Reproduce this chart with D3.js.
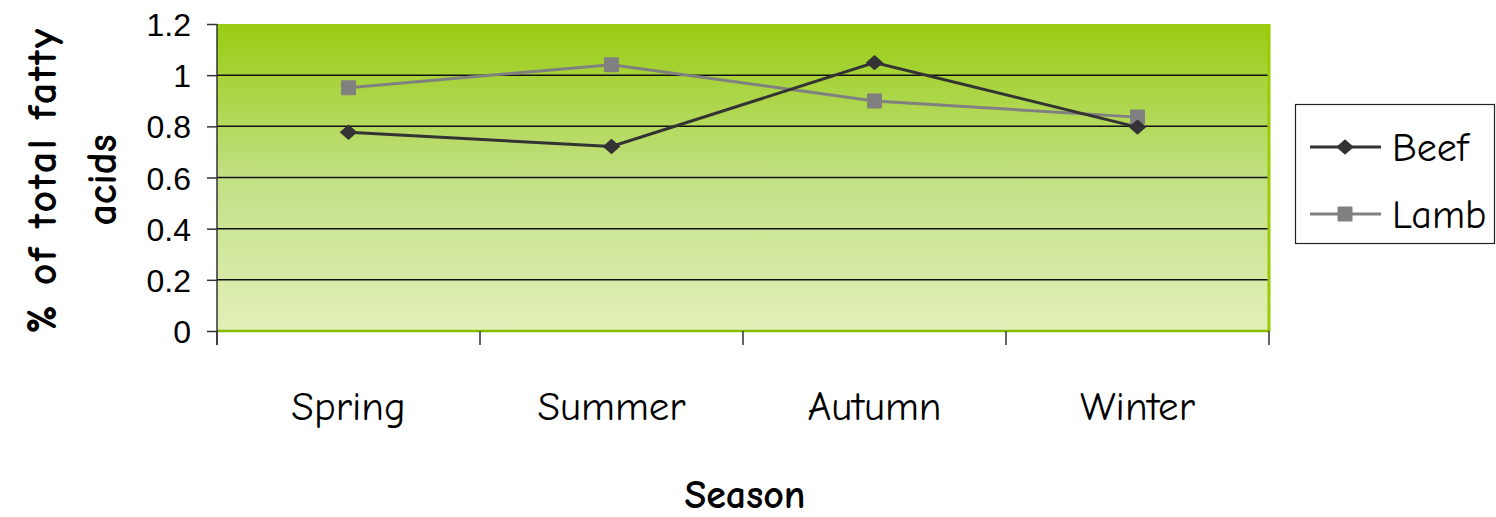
<!DOCTYPE html>
<html><head><meta charset="utf-8">
<script src="https://cdn.jsdelivr.net/npm/d3@7"></script>
<style>
html,body{margin:0;padding:0;background:#fff;}
svg{display:block;}
</style></head>
<body>
<script>
const categories = ["Spring", "Summer", "Autumn", "Winter"];
const beef = [0.777, 0.721, 1.049, 0.797];
const lamb = [0.951, 1.041, 0.899, 0.836];
const yTicks = [0, 0.2, 0.4, 0.6, 0.8, 1, 1.2];
const seriesNames = ["Beef", "Lamb"];

(function () {
const W = 1496, H = 517;
const comic = "'Comic Sans MS','Comic Neue','DejaVu Sans',sans-serif";
const svg = d3.select("body").append("svg").attr("width", W).attr("height", H);

const pL = 217, pR = 1269, pT = 24, pB = 331;
const x = d3.scaleBand().domain(categories).range([pL, pR]).padding(0);
const y = d3.scaleLinear().domain([0, 1.2]).range([pB, pT]);

const defs = svg.append("defs");
const grad = defs.append("linearGradient").attr("id", "bg").attr("x1", 0).attr("y1", 0).attr("x2", 0).attr("y2", 1);
grad.append("stop").attr("offset", "0%").attr("stop-color", "#99cc11");
grad.append("stop").attr("offset", "50%").attr("stop-color", "#c2e084");
grad.append("stop").attr("offset", "100%").attr("stop-color", "#e2f0b9");

svg.append("rect").attr("x", pL).attr("y", pT).attr("width", pR - pL).attr("height", pB - pT)
  .attr("fill", "url(#bg)");

// gridlines
svg.append("g").selectAll("line").data(yTicks.filter(d => d > 0 && d < 1.2)).join("line")
  .attr("x1", pL).attr("x2", pR).attr("y1", d => y(d)).attr("y2", d => y(d))
  .attr("stroke", "#111").attr("stroke-width", 1.5);

// plot border (green)
svg.append("line").attr("x1", pR).attr("x2", pR).attr("y1", pT).attr("y2", pB + 1)
  .attr("stroke", "#99cc00").attr("stroke-width", 3);
svg.append("line").attr("x1", pL).attr("x2", pR).attr("y1", pB).attr("y2", pB)
  .attr("stroke", "#88bb00").attr("stroke-width", 2.5);

// y axis
const yAxis = d3.axisLeft(y).tickValues(yTicks).tickSize(10).tickFormat(d => d3.format("")(d)).tickSizeOuter(0);
const gy = svg.append("g").attr("transform", `translate(${pL},0)`).call(yAxis);
gy.select(".domain").attr("stroke", "#333").attr("stroke-width", 1.5).attr("d", `M0,${pT}V${pB + 14}`);
gy.selectAll(".tick line").attr("stroke", "#333").attr("stroke-width", 1.5);
gy.selectAll(".tick text").attr("font-family", "Arial, 'Liberation Sans', sans-serif").attr("font-size", 32)
  .attr("fill", "#000").attr("x", -26).attr("dy", "0.36em");

// x axis
const gx = svg.append("g").attr("transform", `translate(0,${pB})`);
const bounds = categories.map(c => x(c)).concat([pR]);
gx.selectAll("line.tk").data(bounds).join("line").attr("class", "tk")
  .attr("x1", d => d).attr("x2", d => d).attr("y1", 0).attr("y2", 14)
  .attr("stroke", "#333").attr("stroke-width", 1.5);
gx.selectAll("text").data(categories).join("text")
  .attr("x", d => x(d) + x.bandwidth() / 2).attr("y", 89)
  .attr("text-anchor", "middle").attr("font-family", comic).attr("font-size", 41).attr("fill", "#000")
  .text(d => d);

// lines
const line = d3.line().x((d, i) => x(categories[i]) + x.bandwidth() / 2).y(d => y(d));
const series = [{name: "Lamb", vals: lamb, color: "#808080"}, {name: "Beef", vals: beef, color: "#333333"}];
series.forEach(s => {
  svg.append("path").datum(s.vals).attr("d", line).attr("fill", "none")
    .attr("stroke", s.color).attr("stroke-width", 3);
});
function marker(g, name, cx, cy, color) {
  if (name === "Beef") {
    g.append("path").attr("d", d3.symbol(d3.symbolDiamond2, 150)())
      .attr("transform", `translate(${cx},${cy}) scale(1.15,1)`).attr("fill", color);
  } else {
    g.append("rect").attr("x", cx - 7.5).attr("y", cy - 7.5).attr("width", 15).attr("height", 15)
      .attr("fill", color).attr("rx", 1);
  }
}
series.forEach(s => {
  const g = svg.append("g");
  s.vals.forEach((v, i) => marker(g, s.name, x(categories[i]) + x.bandwidth() / 2, y(v), s.color));
});

// legend
const lg = svg.append("g");
lg.append("rect").attr("x", 1295.5).attr("y", 104.5).attr("width", 199).attr("height", 139)
  .attr("fill", "#fff").attr("stroke", "#222").attr("stroke-width", 1.2);
const legendItems = [{name: "Beef", color: "#333333", yy: 147}, {name: "Lamb", color: "#808080", yy: 214}];
legendItems.forEach(it => {
  lg.append("line").attr("x1", 1310).attr("x2", 1381).attr("y1", it.yy).attr("y2", it.yy)
    .attr("stroke", it.color).attr("stroke-width", 3);
  marker(lg, it.name, 1345, it.yy, it.color);
  lg.append("text").attr("x", 1392).attr("y", it.yy).attr("dy", "0.36em")
    .attr("font-family", comic).attr("font-size", 40).attr("fill", "#000").text(it.name);
});

// axis titles
svg.append("text").attr("x", 745).attr("y", 508).attr("text-anchor", "middle")
  .attr("font-family", comic).attr("font-weight", "bold").attr("font-size", 40).attr("fill", "#000").text("Season");
const yt = svg.append("text").attr("transform", "translate(0,180) rotate(-90)")
  .attr("text-anchor", "middle").attr("font-family", comic).attr("font-weight", "bold").attr("font-size", 42).attr("fill", "#000");
yt.append("tspan").attr("x", 0).attr("y", 56).attr("letter-spacing", 2.5).text("% of total fatty");
yt.append("tspan").attr("x", 0).attr("y", 116).text("acids");
})();
</script>
</body></html>
